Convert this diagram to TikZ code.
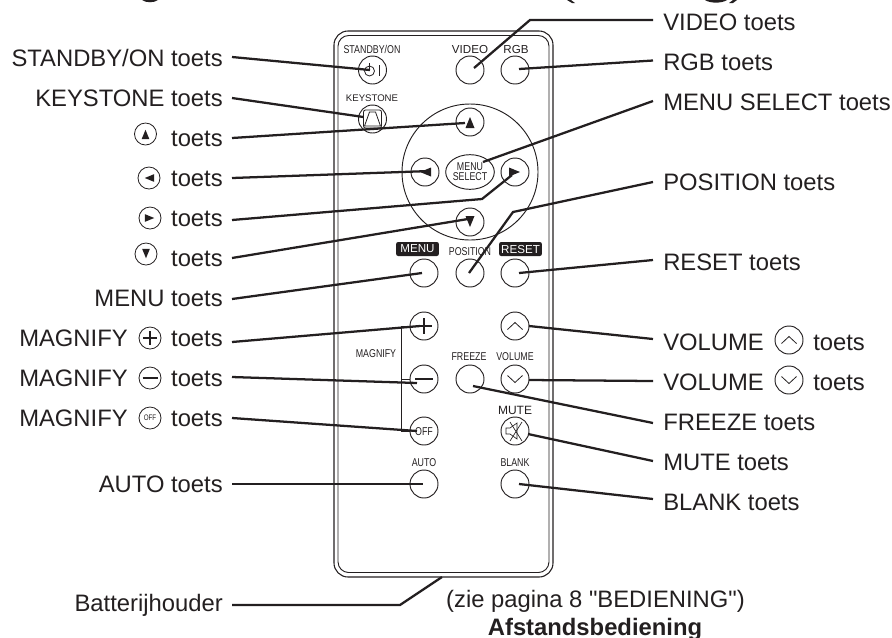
\documentclass[tikz,border=0pt]{standalone}
\usepackage{fontspec}
\usetikzlibrary{shapes.geometric}
\setmainfont[Ligatures=TeXOff]{Liberation Sans}
\newfontfamily\smalfont[FakeStretch=0.78]{Liberation Sans}
\definecolor{inkt}{HTML}{231F20}
\tikzset{
  knop/.style={circle, draw=inkt, line width=0.7pt, minimum size=21pt, inner sep=0pt},
  miniknop/.style={circle, draw=inkt, line width=0.6pt, minimum size=16.5pt, inner sep=0pt},
  leader/.style={draw=inkt, line width=1.7pt},
  lbl/.style={inner sep=0pt, text=inkt, font=\fontsize{17.85}{20}\selectfont},
  opschrift/.style={inner sep=0pt, text=inkt, font=\smalfont\fontsize{8.5}{7.5}\selectfont, align=center},
  rechtop/.style={inner sep=0pt, text=inkt, font=\fontsize{8.7}{10}\selectfont},
  zwartlabel/.style={fill=inkt, text=white, rounded corners=1.5pt, minimum width=32pt, minimum height=10.5pt,
    inner sep=0pt, font=\fontsize{8.7}{10}\selectfont},
  pijl/.pic={\fill[inkt] (0,-5) -- (4.5,6) -- (-4.5,6) -- cycle;},
  hoek/.pic={\draw[inkt, line width=0.6pt] (-7.5,3.5) -- (0,-3.5) -- (7.5,3.5);}
}
\begin{document}
\begin{tikzpicture}[x=0.75pt, y=-0.75pt]
  \useasboundingbox (0,0) rectangle (892,637);

  % remains of the heading at the top edge
  \fill[inkt] (142,0) .. controls (146,3) and (154,3) .. (158,0) -- cycle;
  \fill[inkt] (567,0) -- (571,0) -- (575,3) -- (572,3) -- cycle;
  \fill[inkt] (705,0) .. controls (710,3.5) and (722,3.5) .. (727,0) -- cycle;
  \fill[inkt] (733,0) -- (737,0) -- (733,3) -- (729,3) -- cycle;

  % remote body
  \draw[inkt, line width=0.8pt, rounded corners=10.5pt] (334,31) rectangle (553,577);
  \draw[inkt, line width=0.7pt, rounded corners=8pt] (338,35.5) rectangle (549,572.5);
  \coordinate (cBody) at (442,577);

  % selection ring
  \draw[inkt, line width=0.7pt] (470,172) circle (68);

  % keys
  \foreach \nm/\x/\y in {Standby/372.5/70, Video/470/70, Rgb/515/70, Keystone/372.5/119,
      Up/470/122, Left/425/172, Right/515/172, Down/470/222,
      Menu/424/273, Position/470/273, Reset/515/273,
      Plus/424/326, Minus/424/379, Off/424/431,
      VolUp/515/326, VolDown/515/379, Freeze/470/379, Mute/515/431,
      Auto/424/484, Blank/515/484} {
    \node[knop] (k\nm) at (\x,\y) {};
  }
  \node[ellipse, draw=inkt, line width=0.7pt, minimum width=34.5pt, minimum height=26pt,
    opschrift] (kSelect) at (470,172) {MENU\\SELECT};
  \node[opschrift] (tOff) at (424,431.5) {OFF};

  % key symbols
  \draw[inkt, line width=0.6pt] (369.5,71) circle (5);
  \draw[inkt, line width=0.6pt] (369.5,63) -- (369.5,71);
  \draw[inkt, line width=0.7pt] (379.5,65) -- (379.5,76);
  \draw[inkt, line width=0.6pt, rounded corners=1.5pt] (363.5,110) rectangle (381.5,128);
  \draw[inkt, line width=0.6pt] (369.5,112) -- (375.5,112) -- (380.5,126) -- (364.5,126) -- cycle;
  \pic at (470,122) {pijl};
  \pic[rotate=90] at (425,172) {pijl};
  \pic[rotate=-90] at (515,172) {pijl};
  \pic[rotate=180] at (470,222) {pijl};
  \draw[inkt, line width=1.3pt] (416,326) -- (432,326) (424,318) -- (424,334);
  \draw[inkt, line width=1.6pt] (415,379) -- (433,379);
  \pic at (515,326) {hoek};
  \pic[rotate=180] at (515,379) {hoek};
  \draw[inkt, line width=0.5pt] (506,428) -- (510,428) -- (517,423) -- (517,439) -- (510,434) -- (506,434) -- cycle;
  \draw[inkt, line width=0.5pt] (510,422) -- (522,441) (522,422) -- (510,441);

  % magnify bracket
  \coordinate (bTop) at (401,326);
  \coordinate (bMid) at (401,379);
  \coordinate (bBot) at (401,431);
  \draw[inkt, line width=0.7pt] (kPlus.west) -- (bTop) -- (bBot) -- (kOff.west);
  \draw[inkt, line width=0.5pt] (bMid) -- (kMinus.west);

  % texts on the remote
  \node[opschrift] (tStandby) at (372,49) {STANDBY/ON};
  \node[rechtop] (tVideo) at (470,49) {VIDEO};
  \node[rechtop] (tRgb) at (516,49) {RGB};
  \node[rechtop, font=\fontsize{7.2}{8}\selectfont] (tKeystone) at (372,98) {KEYSTONE};
  \node[zwartlabel] (tMenu) at (417.5,249) {MENU};
  \node[opschrift] (tPosition) at (470,252) {POSITION};
  \node[zwartlabel] (tReset) at (520.5,249) {RESET};
  \node[opschrift] (tMagnify) at (376,354) {MAGNIFY};
  \node[opschrift] (tFreeze) at (469,357) {FREEZE};
  \node[opschrift] (tVolume) at (515,357) {VOLUME};
  \node[rechtop, font=\fontsize{9}{10}\selectfont] (tMute) at (515,410) {MUTE};
  \node[opschrift] (tAuto) at (424,463) {AUTO};
  \node[opschrift] (tBlank) at (515,463) {BLANK};

  % labels left
  \foreach \nm/\txt/\y in {Standby/{STANDBY/ON toets}/66, Keystone/KEYSTONE toets/106,
      Up/toets/146, Left/toets/186, Right/toets/226, Down/toets/266,
      Menu/MENU toets/306, Plus/toets/346, Minus/toets/386, Off/toets/426,
      Auto/AUTO toets/492, Batterij/Batterijhouder/611} {
    \node[lbl, anchor=base east] (l\nm) at (223,\y) {\txt};
  }
  \node[lbl, anchor=base west] (lMagPlus) at (19,346) {MAGNIFY};
  \node[lbl, anchor=base west] (lMagMinus) at (19,386) {MAGNIFY};
  \node[lbl, anchor=base west] (lMagOff) at (19,426) {MAGNIFY};

  % labels right
  \foreach \nm/\txt/\y in {Video/VIDEO toets/30, Rgb/RGB toets/70, Select/MENU SELECT toets/110,
      Position/POSITION toets/190, Reset/RESET toets/270,
      VolUp/VOLUME/350, VolDown/VOLUME/390,
      Freeze/FREEZE toets/430, Mute/MUTE toets/470, Blank/BLANK toets/510} {
    \node[lbl, anchor=base west] (r\nm) at (663,\y) {\txt};
  }
  \node[lbl, anchor=base west] (rVolUpT) at (813,350) {toets};
  \node[lbl, anchor=base west] (rVolDownT) at (813,390) {toets};

  % small symbols in the labels
  \node[miniknop] (mUp) at (145.5,134) {};
  \pic[scale=0.85] at (145.5,134) {pijl};
  \node[miniknop] (mLeft) at (149,178) {};
  \pic[scale=0.85, rotate=90] at (149,178) {pijl};
  \node[miniknop] (mRight) at (150,218) {};
  \pic[scale=0.85, rotate=-90] at (150,218) {pijl};
  \node[miniknop] (mDown) at (146,254) {};
  \pic[scale=0.85, rotate=180] at (146,254) {pijl};
  \node[miniknop] (mPlus) at (150,338) {};
  \draw[inkt, line width=0.8pt] (mPlus.center) ++(-7,0) -- ++(14,0) (mPlus.center) ++(0,-7) -- ++(0,14);
  \node[miniknop] (mMinus) at (150,378) {};
  \draw[inkt, line width=1.2pt] (mMinus.center) ++(-7.5,0) -- ++(15,0);
  \node[miniknop, font=\smalfont\fontsize{6}{6}\selectfont, text=inkt] (mOff) at (150,418) {OFF};
  \node[knop] (mVolUp) at (789,340) {};
  \pic at (789,340) {hoek};
  \node[knop] (mVolDown) at (789,380) {};
  \pic[rotate=180] at (789,380) {hoek};

  % connectors
  \foreach \nm/\sy/\key/\ex/\ey in {Standby/-9/Standby/-2.5/0, Keystone/-8/Keystone/-9/-2,
      Up/-8/Up/-5/1, Left/-8/Left/5/-1, Down/-8/Down/-2/-3, Menu/-7/Menu/-2/0,
      Plus/-4/Plus/-4/0, Minus/-9/Minus/-7/4, Off/-8/Off/-7/0, Auto/-8/Auto/-1/0} {
    \draw[leader] ([shift={(9,\sy)}]l\nm.base east) -- ([shift={(\ex,\ey)}]k\key.center);
  }
  \foreach \nm/\sy/\key/\ex/\ey in {Rgb/-9.5/Rgb/4/-1, Select/-9/Select/13/-10, Reset/-10/Reset/4/0,
      VolUp/-11/VolUp/14/0, VolDown/-9/VolDown/14/1, Freeze/-7/Freeze/3/7,
      Mute/-9/Mute/13/3, Blank/-11/Blank/4/0} {
    \draw[leader] ([shift={(-10,\sy)}]r\nm.base west) -- ([shift={(\ex,\ey)}]k\key.center);
  }
  \coordinate (bVideo) at (530,20);
  \coordinate (bPosition) at (513,212);
  \coordinate (bRight) at (482,199);
  \coordinate (bBatterij) at (400,605);
  \draw[leader] ([shift={(-10,-10)}]rVideo.base west) -- (bVideo) -- ([shift={(4,-2)}]kVideo.center);
  \draw[leader] ([shift={(-10,-8)}]rPosition.base west) -- (bPosition) -- ([shift={(-1,0)}]kPosition.center);
  \draw[leader] ([shift={(9,-6)}]lRight.base east) -- (bRight) -- ([shift={(-3,3)}]kRight.center);
  \draw[leader] ([shift={(9,-6)}]lBatterij.base east) -- (bBatterij) -- (cBody);

  % caption
  \node[lbl, anchor=base] (cPagina) at (595.5,607) {(zie pagina 8 "BEDIENING")};
  \node[lbl, anchor=base, font=\bfseries\fontsize{17.85}{20}\selectfont] (cTitel) at (595,635) {Afstandsbediening};
\end{tikzpicture}
\end{document}
